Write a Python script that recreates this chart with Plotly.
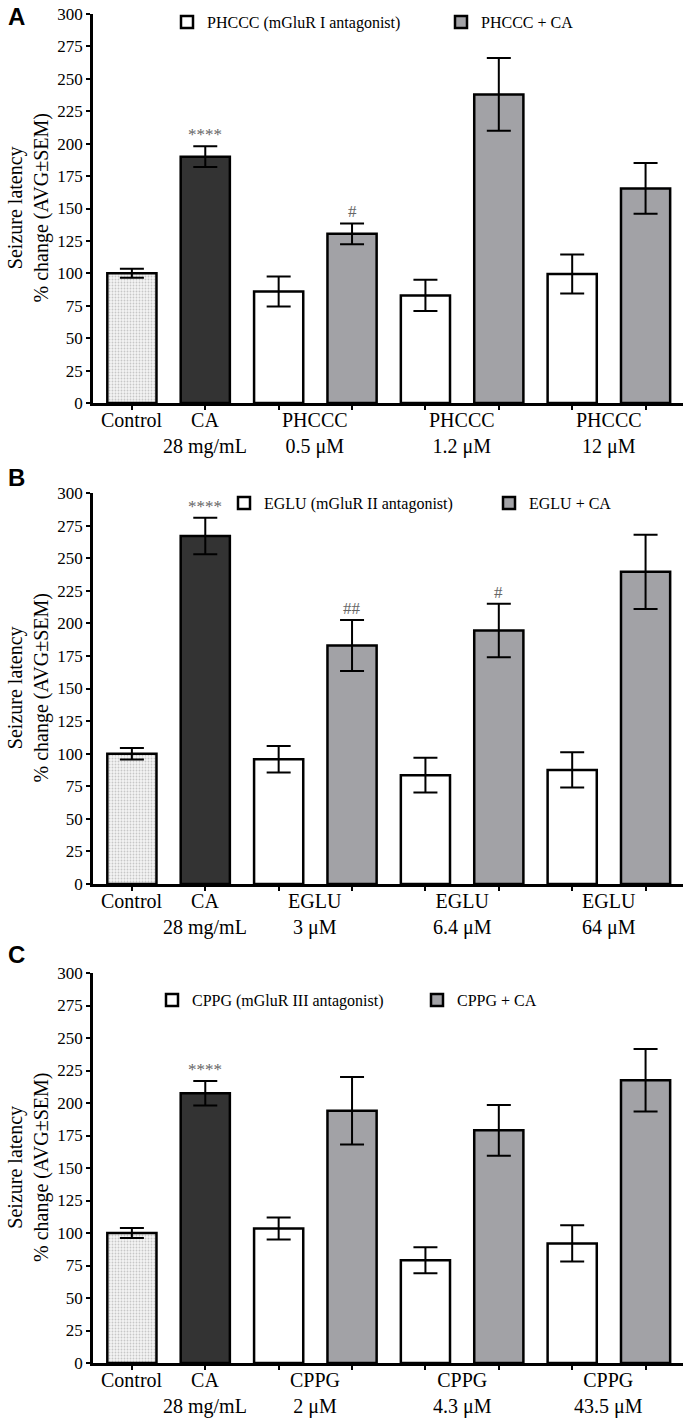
import plotly.graph_objects as go

# ---------------- data ----------------
panel_letters = ["A", "B", "C"]
drug_names = ["PHCCC", "EGLU", "CPPG"]
legend_white = ["PHCCC (mGluR I antagonist)", "EGLU (mGluR II antagonist)", "CPPG (mGluR III antagonist)"]
legend_gray = ["PHCCC + CA", "EGLU + CA", "CPPG + CA"]
doses = [["0.5 μM", "1.2 μM", "12 μM"],
         ["3 μM", "6.4 μM", "64 μM"],
         ["2 μM", "4.3 μM", "43.5 μM"]]
control_label = "Control"
ca_label = "CA<br>28 mg/mL"

control_vals = [100, 100, 100]
control_err = [3.5, 4.4, 3.9]
ca_vals = [190, 267, 207.5]
ca_err = [8, 14, 9.5]
antag_vals = [[86, 83, 99.5], [95.7, 83.5, 87.5], [103.5, 79, 92]]
antag_err = [[11.5, 12, 15], [10.2, 13.3, 13.5], [8.5, 10, 14]]
combo_vals = [[130.5, 238, 165.5], [183, 194.5, 239.5], [194, 179, 217.5]]
combo_err = [[8, 28, 19.5], [19.5, 20.5, 28.5], [26, 19.5, 24]]

# significance marks per bar position (0..7)
sig_marks = [["", "****", "", "#", "", "", "", ""],
             ["", "****", "", "##", "", "#", "", ""],
             ["", "****", "", "", "", "", "", ""]]

y_ticks = list(range(0, 301, 25))
y_title = "Seizure latency<br>% change (AVG±SEM)"

# ---------------- layout constants (page pixels) ----------------
W, H = 689, 1428
ML, MR = 93, W - 683
MT, MB = 14, H - 1363
PW, PH = W - ML - MR, H - MT - MB
panel_px = [(14, 403), (493, 884), (973, 1363)]   # top, bottom of plot areas
letter_px = [(16, 17), (16, 477), (16, 955)]
legend_px = [((181, 455), 22), ((238, 503), 503), ((166, 431), 1000)]
ytitle_x = 28

def py(page_y):
    return (H - MB - page_y) / PH

def pxx(page_x):
    return (page_x - ML) / PW

SERIF = "Liberation Serif"
BAR_W = 0.67
LINE_W = 2.5
GRAY = "#a2a2a6"
DARK = "#333333"

fig = go.Figure()
layout = dict(
    width=W, height=H,
    margin=dict(l=ML, r=MR, t=MT, b=MB, autoexpand=False),
    paper_bgcolor="white", plot_bgcolor="white",
    barmode="overlay",
    font=dict(family=SERIF, color="black"),
    annotations=[],
)

for p in range(3):
    sfx = "" if p == 0 else str(p + 1)
    xa, ya = "x" + sfx, "y" + sfx
    leg_w = "legend" + ("" if p == 0 else str(2 * p + 1))
    leg_g = "legend" + str(2 * p + 2)
    antag_x = [2, 4, 6]
    combo_x = [3, 5, 7]

    fig.add_trace(go.Bar(
        x=[0], y=[control_vals[p]], width=BAR_W, xaxis=xa, yaxis=ya,
        marker=dict(color="#eeeeee", line=dict(color="black", width=LINE_W),
                    pattern=dict(shape=".", fgcolor="#9a9a9a", bgcolor="#f4f4f4", size=3, solidity=0.3)),
        error_y=dict(type="data", array=[control_err[p]], color="black", thickness=2, width=12),
        showlegend=False, name="Control"))
    fig.add_trace(go.Bar(
        x=[1], y=[ca_vals[p]], width=BAR_W, xaxis=xa, yaxis=ya,
        marker=dict(color=DARK, line=dict(color="black", width=LINE_W)),
        error_y=dict(type="data", array=[ca_err[p]], color="black", thickness=2, width=12),
        showlegend=False, name="CA"))
    fig.add_trace(go.Bar(
        x=antag_x, y=antag_vals[p], width=BAR_W, xaxis=xa, yaxis=ya,
        marker=dict(color="white", line=dict(color="black", width=LINE_W)),
        error_y=dict(type="data", array=antag_err[p], color="black", thickness=2, width=12),
        name=legend_white[p], legend=leg_w))
    fig.add_trace(go.Bar(
        x=combo_x, y=combo_vals[p], width=BAR_W, xaxis=xa, yaxis=ya,
        marker=dict(color=GRAY, line=dict(color="black", width=LINE_W)),
        error_y=dict(type="data", array=combo_err[p], color="black", thickness=2, width=12),
        name=legend_gray[p], legend=leg_g))

    top, bot = panel_px[p]
    layout["xaxis" + sfx] = dict(
        domain=[0, 1], anchor=ya, range=[-0.53, 7.51],
        tickmode="array", tickvals=list(range(8)), showticklabels=False,
        ticks="outside", ticklen=4, tickwidth=2, tickcolor="black",
        showline=True, linewidth=LINE_W, linecolor="black",
        showgrid=False, zeroline=False, fixedrange=True)
    layout["yaxis" + sfx] = dict(
        domain=[py(bot), py(top)], anchor=xa, range=[0, 300],
        tickmode="array", tickvals=y_ticks, ticklabeloverflow="allow",
        ticks="outside", ticklen=4, tickwidth=2, tickcolor="black",
        tickfont=dict(family=SERIF, size=17, color="black"),
        showline=True, linewidth=LINE_W, linecolor="black",
        showgrid=False, zeroline=False)

    # y-axis title (two rotated lines)
    layout["annotations"].append(dict(
        x=pxx(ytitle_x), y=0.5, xref="paper", yref=ya + " domain", text=y_title,
        textangle=-90, showarrow=False, xanchor="center", yanchor="middle",
        font=dict(family=SERIF, size=20, color="black")))

    (bx_w, bx_g), lyc = legend_px[p]
    for leg, bx in ((leg_w, bx_w), (leg_g, bx_g)):
        layout[leg] = dict(
            orientation="h", x=pxx(bx - 14), xanchor="left", y=py(lyc), yanchor="middle",
            xref="paper", yref="paper",
            font=dict(family=SERIF, size=16, color="black"), bgcolor="rgba(0,0,0,0)",
            itemwidth=30)

    # x category labels
    labels = [(0, control_label), (1, ca_label)]
    for k in range(3):
        labels.append(((antag_x[k] + combo_x[k]) / 2, drug_names[p] + "<br>" + doses[p][k]))
    for xv, txt in labels:
        layout["annotations"].append(dict(
            x=xv, y=0, xref=xa, yref=ya, text=txt, showarrow=False,
            yanchor="top", yshift=-4, font=dict(family=SERIF, size=20, color="black")))

    # significance marks
    all_vals = [control_vals[p], ca_vals[p]]
    all_errs = [control_err[p], ca_err[p]]
    for k in range(3):
        all_vals += [antag_vals[p][k], combo_vals[p][k]]
        all_errs += [antag_err[p][k], combo_err[p][k]]
    for i, mark in enumerate(sig_marks[p]):
        if mark:
            layout["annotations"].append(dict(
                x=i, y=all_vals[i] + all_errs[i], xref=xa, yref=ya, text=mark, showarrow=False,
                yanchor="bottom", yshift=0, font=dict(family=SERIF, size=17, color="#666666")))

    # panel letter
    lxp, lyp = letter_px[p]
    layout["annotations"].append(dict(
        x=pxx(lxp), y=py(lyp), xref="paper", yref="paper", text="<b>" + panel_letters[p] + "</b>",
        showarrow=False, xanchor="center", yanchor="middle",
        font=dict(family="Liberation Sans", size=24, color="black")))

fig.update_layout(**layout)
fig.write_html("out.html", config={"displayModeBar": False},
               post_script="document.body.style.margin='0';")
